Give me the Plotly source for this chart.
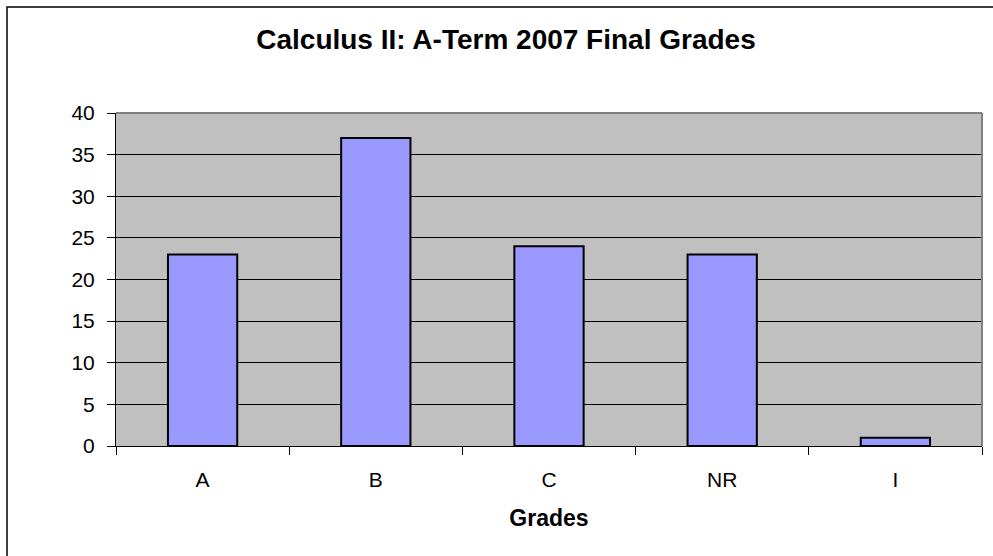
import plotly.graph_objects as go

grades = ["A", "B", "C", "NR", "I"]
counts = [23, 37, 24, 23, 1]
y_ticks = [0, 5, 10, 15, 20, 25, 30, 35, 40]

W, H = 993, 556
L, R, T, B = 116, 11, 113, 110
pw, ph = W - L - R, H - T - B

def px(x):
    return (x - L) / pw

def py(y):
    return (H - B - y) / ph

fig = go.Figure(go.Bar(
    x=grades, y=counts,
    marker=dict(color="#9999FF", line=dict(color="black", width=2)),
))

fig.update_layout(
    width=W, height=H,
    margin=dict(l=L, r=R, t=T, b=B),
    paper_bgcolor="white",
    plot_bgcolor="#C0C0C0",
    bargap=0.6,
    showlegend=False,
    font=dict(family="Arial, Liberation Sans, sans-serif", size=21, color="black"),
    title=dict(text="<b>Calculus II: A-Term 2007 Final Grades</b>",
               xref="container", x=506 / W, xanchor="center",
               y=1 - 39 / H, yanchor="middle",
               font=dict(size=28)),
    xaxis=dict(
        title=dict(text="<b>Grades</b>", font=dict(size=23), standoff=19),
        showline=True, linecolor="black", linewidth=1,
        ticks="outside", ticklen=8, tickcolor="black", tickson="boundaries",
        ticklabelstandoff=15,
        showgrid=False,
    ),
    yaxis=dict(
        range=[0, 40], tickvals=y_ticks,
        showline=True, linecolor="black", linewidth=1,
        ticks="outside", ticklen=8, tickcolor="black",
        ticklabelstandoff=8,
        showgrid=True, gridcolor="black", gridwidth=1,
        zeroline=False,
    ),
    shapes=[
        dict(type="line", xref="paper", yref="paper", x0=0, x1=1, y0=1, y1=1,
             line=dict(color="#808080", width=2)),
        dict(type="line", xref="paper", yref="paper", x0=1, x1=1, y0=0, y1=1,
             line=dict(color="#808080", width=2)),
        dict(type="rect", xref="paper", yref="paper",
             x0=px(7), x1=px(1005), y0=py(7), y1=py(570),
             line=dict(color="black", width=1.5), layer="below"),
    ],
)

fig.write_html("out.html",
               config={"displayModeBar": False},
               post_script="document.body.style.margin='0';document.body.style.overflow='hidden';")
